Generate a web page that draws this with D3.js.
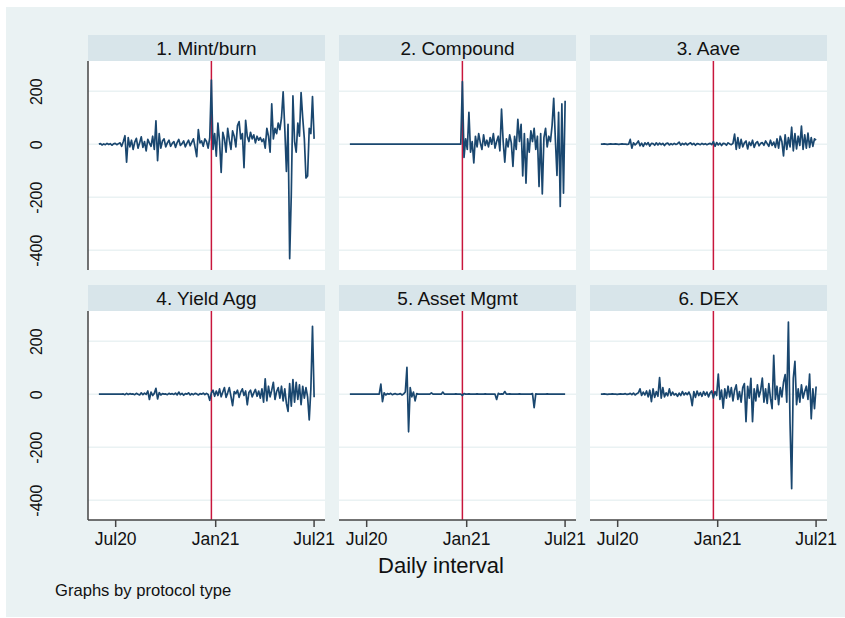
<!DOCTYPE html>
<html>
<head>
<meta charset="utf-8">
<script src="https://cdn.jsdelivr.net/npm/d3@7"></script>
<style>
  body { margin: 0; background: #fff; }
  svg text { font-family: "Liberation Sans", Arial, sans-serif; fill: #111; }
</style>
</head>
<body>
<svg id="chart" width="845" height="618"></svg>
<script>
// data, one value every 3 days starting 1 Jun 2020
var startDate = new Date(2020, 5, 1),
  stepDays = 3;
var eventDate = new Date(2020, 11, 25); // red reference line

var panelNames = ["1. Mint/burn", "2. Compound", "3. Aave", "4. Yield Agg", "5. Asset Mgmt", "6. DEX"];

var mintBurn = [
  0, 2, -3, 1, -2, 3, -1, 2, -4, 1,
  3, -2, 2, 5, -8, 10, 32, -68, 25, -10,
  15, -20, 8, 22, -15, 5, 28, -12, 10, -25,
  18, 4, -8, 30, -20, 88, -62, 40, -15, 12,
  20, -10, 5, 15, -8, 3, 10, -12, 6, 18,
  -5, 2, 12, -10, 4, 15, -6, 8, 20, -12,
  -47, 55, 5, 12, -8, 20, 10, -15, 25, 242,
  -20, 40, -45, 80, 10, -107, 45, 20, -30, 60,
  15, -20, 50, 30, -10, 70, 85, 20, 40, -89,
  90, 30, 10, 45, 20, 35, 5, 30, 15, 25,
  10, 20, -15, 60, 30, -30, 152, 20, 60, 40,
  80, 55, 100, 198, 60, -103, 75, -432, -188, 182,
  10, -30, 80, 30, 195, 100, 20, -128, -120, 60,
  40, 180, 20
];
var compound = [
  0, 0, 0, 0, 0, 0, 0, 0, 0, 0,
  0, 0, 0, 0, 0, 0, 0, 0, 0, 0,
  0, 0, 0, 0, 0, 0, 0, 0, 0, 0,
  0, 0, 0, 0, 0, 0, 0, 0, 0, 0,
  0, 0, 0, 0, 0, 0, 0, 0, 0, 0,
  0, 0, 0, 0, 0, 0, 0, 0, 0, 0,
  0, 0, 0, 0, 0, 0, 0, 0, 0, 236,
  -50, 20, -20, 120, -30, 10, -71, 30, -10, 40,
  5, -20, 35, -5, 15, -10, 25, 0, 40, -15,
  10, 30, -25, 132, 10, -68, 20, -10, 35, 5,
  -84, 30, -20, 94, 10, 75, -120, 40, -147, 20,
  -30, 50, 10, 60, -20, 30, -160, 40, -188, 25,
  60, -10, 30, 10, 70, 173, 20, -118, 120, -235,
  152, -185, 164
];
var aave = [
  0, 0, 1, 0, -1, 0, 1, 0, 0, 1,
  0, -1, 0, 1, 0, 0, -1, 0, 18, -15,
  5, -3, 3, 12, -6, 4, -8, 5, -2, 6,
  -7, 3, 2, -4, 5, -3, 4, -2, 3, -5,
  2, 4, -3, 2, -2, 3, -1, 2, 8, -4,
  3, -2, 4, -3, 2, 5, -2, 3, -4, 2,
  1, -2, 3, -1, 2, -2, 1, 3, -2, 10,
  -8, 6, -3, 4, -5, 3, 2, -4, 5, 1,
  -2, 3, 38, -20, 25, -15, 18, -10, 5, 12,
  -18, 8, -5, 15, -12, 4, 10, -6, 3, 6,
  -4, 12, 2, -8, 15, -5, 8, -12, 20, -15,
  30, 10, -44, 35, -20, 25, -10, 64, -25, 40,
  -18, 30, -5, 68, -20, 35, -15, 42, -12, 25,
  -8, 20, 15
];
var yieldAgg = [
  0, 0, 0, 0, 0, 0, 0, 0, 0, 0,
  0, 0, 0, 0, 0, 1, -2, 3, -1, 2,
  0, 1, -2, 3, 0, -3, 5, -2, 4, -1,
  12, -20, 8, -5, 3, 22, -18, 6, -3, 2,
  0, 1, -2, 3, 0, 2, -1, 4, -3, 8,
  -2, 3, -4, 2, 0, 5, -3, 2, -2, 3,
  1, -3, 2, 0, 4, -2, 3, -1, -23, 5,
  15, -8, 12, -5, 20, -10, 8, 25, -12, 5,
  25, -8, -43, 10, 2, 15, -12, 8, 20, -5,
  12, -40, 6, 15, -10, 5, 18, -8, 12, -15,
  20, -30, 58, -25, 30, -10, 15, 45, -20, 10,
  25, -15, 30, -25, 20, -35, -65, 40, -45, 55,
  -30, 45, -20, 35, -40, 30, -15, 25, -10, -97,
  20, 256, -12
];
var assetMgmt = [
  0, 0, 0, 0, 0, 0, 0, 0, 0, 0,
  0, 0, 0, 0, 0, 0, 0, 0, 0, 38,
  -28, 5, -3, 2, 0, 3, -2, 1, 2, -1,
  0, 2, -3, 1, 8, 101, -142, 25, -10, 8,
  -25, 2, 0, 0, 0, 0, 0, 0, 0, 0,
  5, 0, 0, 0, 0, 0, 0, 8, 0, 0,
  0, 0, 0, 0, 0, 1, 0, 0, 0, -5,
  2, 0, 0, 1, 0, 0, 0, 0, 1, 0,
  0, 0, 0, 1, 0, 0, 0, 0, 0, 0,
  -20, 3, 0, 1, 0, 10, 0, 0, 1, 0,
  0, 0, 0, 0, 1, 0, 0, 0, 0, 0,
  0, 0, 2, -51, 1, 0, 0, 0, 0, 0,
  0, 1, 0, 0, 0, 0, 0, 0, 0, 0,
  0, 0, 0
];
var dex = [
  0, 0, 1, 0, -1, 0, 0, 1, 0, 0,
  -1, 0, 1, 0, 0, 2, -1, 0, 3, -2,
  4, -3, 2, 5, 20, -5, 8, -3, 12, -10,
  15, -28, 20, -12, 10, -8, 63, -15, 25, -10,
  5, -6, 20, -5, 8, -3, 2, -8, 4, -5,
  10, -3, 5, -2, 8, -6, -43, 10, -12, 12,
  -5, 6, -8, 10, -4, 8, -10, 5, 12, -15,
  10, -5, 76, -20, 15, -53, 20, -15, 30, -10,
  25, -25, 15, 35, -20, 10, -30, 25, 40, -104,
  30, -15, 60, -104, 20, -25, 35, -10, 15, 61,
  -30, 20, -35, 40, -15, -55, 147, -20, 30, -40,
  25, -10, 45, 74, -30, 272, -110, -357, 60, 124,
  -40, 20, -30, 35, -15, 10, 30, -20, 76, -93,
  20, -55, 29
];
var seriesList = [mintBurn, compound, aave, yieldAgg, assetMgmt, dex];

var yTicks = [-400, -200, 0, 200];
var xTickDates = [new Date(2020, 6, 1), new Date(2021, 0, 1), new Date(2021, 6, 1)];
var xTickLabels = ["Jul20", "Jan21", "Jul21"];

// layout (Stata s2color look)
var panelLeft = 88, panelStepX = 251, panelWidth = 237;
var panelTop = 35, panelStepY = 250, stripHeight = 26, plotHeight = 209;
var lineColor = "#1a476f", redColor = "#c8163c", gridColor = "#eaf2f3";

var svg = d3.select("#chart");

svg.append("rect")
  .attr("x", 6).attr("y", 7)
  .attr("width", 839).attr("height", 610)
  .attr("fill", "#eaf2f3");

var xScale = d3.scaleTime()
  .domain([new Date(2020, 4, 12), new Date(2021, 6, 22)])
  .range([0, panelWidth]);
var yScale = d3.scaleLinear().domain([-475, 314]).range([plotHeight, 0]);

var line = d3.line()
  .x(function (d, i) { return xScale(d3.timeDay.offset(startDate, i * stepDays)); })
  .y(function (d) { return yScale(d); });

var panels = svg.selectAll(".panel")
  .data(panelNames)
  .enter()
  .append("g")
  .attr("class", "panel")
  .attr("transform", function (d, i) {
    return "translate(" + (panelLeft + (i % 3) * panelStepX) + "," + (panelTop + Math.floor(i / 3) * panelStepY) + ")";
  });

// title strip
panels.append("rect")
  .attr("width", panelWidth).attr("height", stripHeight)
  .attr("fill", "#d8e5ea");
panels.append("text")
  .attr("x", panelWidth / 2).attr("y", 20)
  .attr("text-anchor", "middle")
  .style("font-size", "19px")
  .text(function (d) { return d; });

var plots = panels.append("g").attr("transform", "translate(0," + stripHeight + ")");

plots.append("rect")
  .attr("width", panelWidth).attr("height", plotHeight)
  .attr("fill", "#fff");

plots.selectAll(".grid")
  .data(yTicks)
  .enter()
  .append("line")
  .attr("class", "grid")
  .attr("x1", 0).attr("x2", panelWidth)
  .attr("y1", function (d) { return yScale(d); })
  .attr("y2", function (d) { return yScale(d); })
  .attr("stroke", gridColor)
  .attr("stroke-width", 1.5);

plots.append("line")
  .attr("x1", xScale(eventDate)).attr("x2", xScale(eventDate))
  .attr("y1", 0).attr("y2", plotHeight)
  .attr("stroke", redColor)
  .attr("stroke-width", 1.5);

plots.append("path")
  .attr("d", function (d, i) { return line(seriesList[i]); })
  .attr("fill", "none")
  .attr("stroke", lineColor)
  .attr("stroke-width", 1.7)
  .attr("stroke-linejoin", "round");

// y axis on the first column
plots.filter(function (d, i) { return i % 3 == 0; }).each(function () {
  var g = d3.select(this).append("g");
  g.call(d3.axisLeft(yScale).tickValues(yTicks).tickSize(0)
    .tickFormat(function (d) { return String(d); }));
  g.select(".domain").attr("stroke", "#444").attr("stroke-width", 1.5).attr("d", "M0,0V" + plotHeight);
  g.selectAll(".tick text")
    .attr("transform", "translate(-46,0) rotate(-90)")
    .attr("x", 0).attr("y", 0).attr("dy", 0)
    .attr("text-anchor", "middle")
    .style("font-size", "16px")
    .style("font-family", "Liberation Sans, Arial, sans-serif")
    .attr("fill", "#111");
});

// x axis on the bottom row
plots.filter(function (d, i) { return i >= 3; }).each(function () {
  var g = d3.select(this).append("g").attr("transform", "translate(0," + plotHeight + ")");
  g.call(d3.axisBottom(xScale).tickValues(xTickDates).tickSize(7).tickPadding(6)
    .tickFormat(function (d, i) { return xTickLabels[i]; }));
  g.select(".domain").attr("stroke", "#444").attr("stroke-width", 1.5).attr("d", "M0,0H" + panelWidth);
  g.selectAll(".tick line").attr("stroke", "#444").attr("stroke-width", 1.5);
  g.selectAll("text")
    .style("font-size", "17.5px")
    .style("font-family", "Liberation Sans, Arial, sans-serif")
    .attr("fill", "#111");
});

svg.append("text")
  .attr("x", 441).attr("y", 573)
  .attr("text-anchor", "middle")
  .style("font-size", "22px")
  .text("Daily interval");

svg.append("text")
  .attr("x", 55).attr("y", 596)
  .style("font-size", "16.6px")
  .text("Graphs by protocol type");
</script>
</body>
</html>
